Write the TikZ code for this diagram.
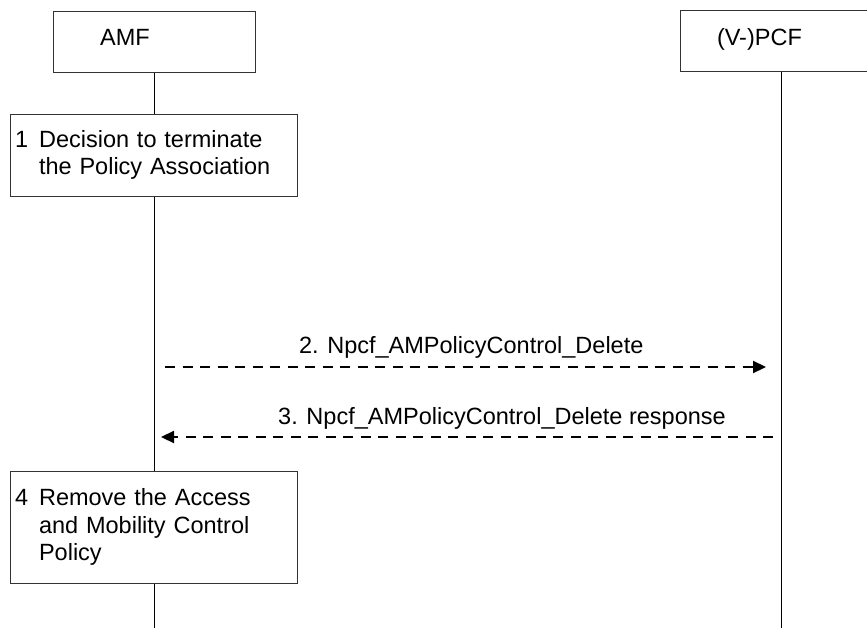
\documentclass[tikz,border=0pt]{standalone}
\usepackage{fontspec}
\setmainfont{Liberation Sans}
\usetikzlibrary{arrows.meta,positioning}

\begin{document}
\begin{tikzpicture}[x=1pt,y=-1pt,>={Triangle[length=13pt,width=12pt]},
  every node/.style={font=\fontsize{23.5}{27.5}\selectfont},
  headbox/.style={draw=black!80,line width=1pt,fill=white,minimum width=202pt,minimum height=61pt,align=left,text height=17pt,text depth=9pt},
  stepbox/.style={draw=black!80,line width=1pt,fill=white,minimum width=287pt,align=left,inner xsep=4.5pt,text width=278pt},
  msg/.style={->,line width=2.2pt,dash pattern=on 10pt off 7.5pt},
  life/.style={line width=1pt}]
\useasboundingbox (0,0) rectangle (867,628);
\node[headbox,text width=107.6pt] (amf) at (154,42) {AMF};
\node[headbox,text width=128pt] (pcf) at (781,41.5) {(V-)PCF};
\node[stepbox,minimum height=82pt,below=41pt of amf] (dec) {\begin{tabular}{@{}l@{\hspace{11pt}}l@{}}1&Decision to terminate\\&the Policy Association\end{tabular}};
\node[stepbox,minimum height=112pt,below=274pt of dec] (rem) {\begin{tabular}{@{}l@{\hspace{11pt}}l@{}}4&Remove the Access\\&and Mobility Control\\&Policy\end{tabular}};
\coordinate (amfend) at (154,628);\coordinate (pcfend) at (781,628);
\coordinate (del1) at (154,367);\coordinate (del2) at (781,367);
\coordinate (rsp1) at (154,437);\coordinate (rsp2) at (781,437);
\draw[life] (amf)--(dec) (dec)--(rem) (rem)--(amfend);
\draw[life] (pcf)--(pcfend);
\draw[msg,shorten <=11pt,shorten >=15pt] (del1)--node[anchor=base,yshift=14pt,pos=0.506]{2. Npcf\_AMPolicyControl\_Delete} (del2);
\draw[msg,shorten <=8pt,shorten >=7pt] (rsp2)--node[anchor=base,yshift=13pt,pos=0.445]{3. Npcf\_AMPolicyControl\_Delete response} (rsp1);
\end{tikzpicture}
\end{document}
